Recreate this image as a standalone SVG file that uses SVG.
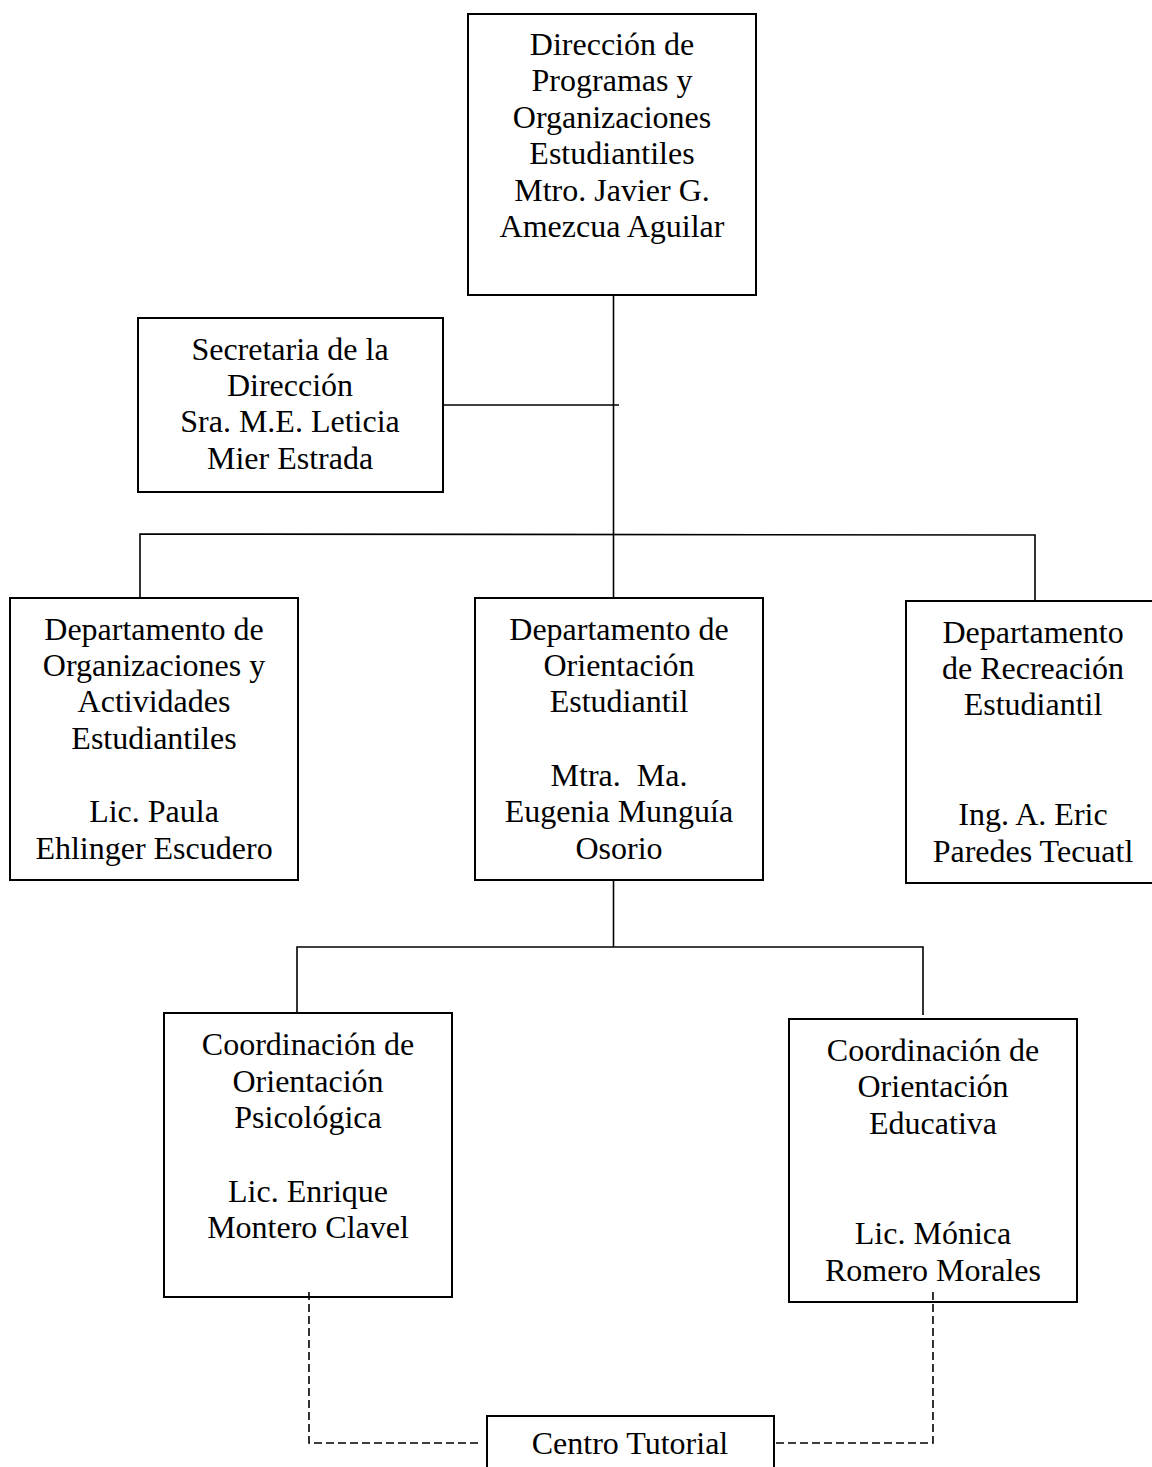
<svg xmlns="http://www.w3.org/2000/svg" width="1152" height="1467" viewBox="0 0 1152 1467">
<style>
.box{fill:#fff;stroke:#000;stroke-width:2}
.ln{fill:none;stroke:#000;stroke-width:1.6}
.dash{fill:none;stroke:#000;stroke-width:1.6;stroke-dasharray:8 4}
text{font-family:"Liberation Serif","Times New Roman",serif;font-size:32px;fill:#000;text-anchor:middle;white-space:pre}
</style>
<rect width="1152" height="1467" fill="#fff"/>
<g id="direccion">
<rect class="box" x="468" y="14" width="288" height="281"/>
<text x="612" y="55">Dirección de</text>
<text x="612" y="91">Programas y</text>
<text x="612" y="128">Organizaciones</text>
<text x="612" y="164">Estudiantiles</text>
<text x="612" y="201">Mtro. Javier G.</text>
<text x="612" y="237">Amezcua Aguilar</text>
</g>
<g id="secretaria">
<rect class="box" x="138" y="318" width="305" height="174"/>
<text x="290" y="360">Secretaria de la</text>
<text x="290" y="396">Dirección</text>
<text x="290" y="432">Sra. M.E. Leticia</text>
<text x="290" y="469">Mier Estrada</text>
</g>
<g id="dep-organizaciones">
<rect class="box" x="10" y="598" width="288" height="282"/>
<text x="154" y="640">Departamento de</text>
<text x="154" y="676">Organizaciones y</text>
<text x="154" y="712">Actividades</text>
<text x="154" y="749">Estudiantiles</text>
<text x="154" y="822">Lic. Paula</text>
<text x="154" y="859">Ehlinger Escudero</text>
</g>
<g id="dep-orientacion">
<rect class="box" x="475" y="598" width="288" height="282"/>
<text x="619" y="640">Departamento de</text>
<text x="619" y="676">Orientación</text>
<text x="619" y="712">Estudiantil</text>
<text x="619" y="786">Mtra.  Ma.</text>
<text x="619" y="822">Eugenia Munguía</text>
<text x="619" y="859">Osorio</text>
</g>
<g id="dep-recreacion">
<rect class="box" x="906" y="601" width="260" height="282"/>
<text x="1033" y="643">Departamento</text>
<text x="1033" y="679">de Recreación</text>
<text x="1033" y="715">Estudiantil</text>
<text x="1033" y="825">Ing. A. Eric</text>
<text x="1033" y="862">Paredes Tecuatl</text>
</g>
<g id="coord-psicologica">
<rect class="box" x="164" y="1013" width="288" height="284"/>
<text x="308" y="1055">Coordinación de</text>
<text x="308" y="1092">Orientación</text>
<text x="308" y="1128">Psicológica</text>
<text x="308" y="1202">Lic. Enrique</text>
<text x="308" y="1238">Montero Clavel</text>
</g>
<g id="coord-educativa">
<rect class="box" x="789" y="1019" width="288" height="283"/>
<text x="933" y="1061">Coordinación de</text>
<text x="933" y="1097">Orientación</text>
<text x="933" y="1134">Educativa</text>
<text x="933" y="1244">Lic. Mónica</text>
<text x="933" y="1281">Romero Morales</text>
</g>
<g id="centro-tutorial">
<rect class="box" x="487" y="1416" width="287" height="70"/>
<text x="630" y="1454">Centro Tutorial</text>
</g>
<g id="connectors">
<line class="ln" x1="613.5" y1="295" x2="613.5" y2="598"/>
<line class="ln" x1="443" y1="405" x2="619" y2="405"/>
<polyline class="ln" points="140,598 140,534 1035,535 1035,601"/>
<line class="ln" x1="613.5" y1="880" x2="613.5" y2="947"/>
<polyline class="ln" points="297,1013 297,947 923,947 923,1015"/>
<polyline class="dash" points="309,1292 309,1443 482,1443"/>
<polyline class="dash" points="776,1443 933,1443 933,1292"/>
</g>
</svg>
